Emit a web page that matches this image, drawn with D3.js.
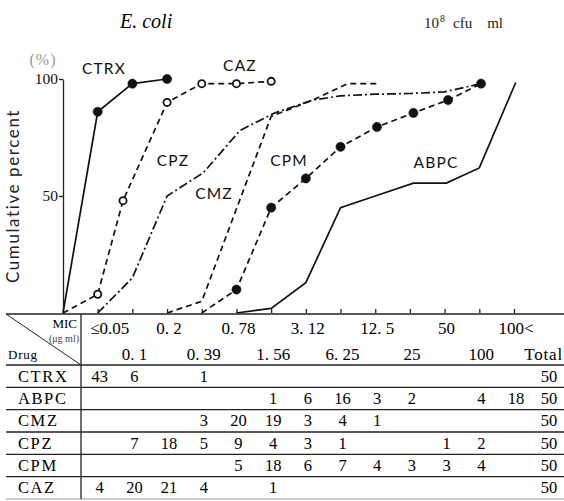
<!DOCTYPE html>
<html>
<head>
<meta charset="utf-8">
<script src="https://cdn.jsdelivr.net/npm/d3@7"></script>
<style>
  html, body { margin: 0; padding: 0; background: #fff; }
  svg { display: block; }
  .serif { font-family: "Liberation Serif", "DejaVu Serif", serif; }
  .sans { font-family: Lato, "Open Sans", sans-serif; }
</style>
</head>
<body>
<div id="chart"></div>
<script>
// MIC classes (table columns), drugs (table rows)
const micTop = ["≤0.05", "0. 2", "0. 78", "3. 12", "12. 5", "50", "100<"];
const micBottom = ["0. 1", "0. 39", "1. 56", "6. 25", "25", "100"];
const drugs = ["CTRX", "ABPC", "CMZ", "CPZ", "CPM", "CAZ"];

// number of strains per MIC class (13 classes), null = blank
const countCTRX = [43, 6, null, 1, null, null, null, null, null, null, null, null, null];
const countABPC = [null, null, null, null, null, 1, 6, 16, 3, 2, null, 4, 18];
const countCMZ  = [null, null, null, 3, 20, 19, 3, 4, 1, null, null, null, null];
const countCPZ  = [null, 7, 18, 5, 9, 4, 3, 1, null, null, 1, 2, null];
const countCPM  = [null, null, null, null, 5, 18, 6, 7, 4, 3, 3, 4, null];
const countCAZ  = [4, 20, 21, 4, null, 1, null, null, null, null, null, null, null];
const totals = [50, 50, 50, 50, 50, 50];

// cumulative curves: [class position, percent]
const curveCTRX = [[0, 0], [1, 86], [2, 98], [3, 100]];
const curveCAZ  = [[0, 0], [1, 8], [1.73, 48], [3, 90], [4, 98], [5, 98], [6, 99]];
const curveCPZ  = [[1, 0], [2, 15], [3, 50], [4.05, 60], [5.1, 78], [6.1, 85.5], [7.2, 91], [8, 92.8], [9, 93.5], [10, 93.8], [11, 94.5], [12.05, 98]];
const curveCMZ  = [[3, 0], [4, 5], [6, 84], [7.2, 91], [8.2, 98], [9.1, 98]];
const curveCPM  = [[4, 0], [5, 10], [6, 45], [7, 57.5], [8, 71], [9.05, 79.5], [10.1, 85.5], [11.1, 91], [12.05, 98]];
const curveABPC = [[5, 0], [6, 2], [7, 13], [8, 45], [9, 50], [10.1, 55.5], [11.05, 55.5], [12, 62], [13.05, 98.5]];

const W = 564, H = 501;

const svg = d3.select("#chart").append("svg")
  .attr("width", W)
  .attr("height", H);

const x = d3.scaleLinear().domain([0, 13]).range([63, 514]);
const y = d3.scaleLinear().domain([0, 100]).range([313, 79]);

// titles
svg.append("text")
  .attr("class", "serif")
  .attr("x", 120).attr("y", 28)
  .attr("font-size", 20)
  .attr("font-style", "italic")
  .text("E. coli");

const sub = svg.append("text")
  .attr("class", "serif")
  .attr("x", 424).attr("y", 28)
  .attr("font-size", 15)
  .attr("fill", "#222");
sub.append("tspan").text("10");
sub.append("tspan").attr("font-size", 10).attr("dy", -6).attr("dx", 1).text("8");
sub.append("tspan").attr("dy", 6).attr("dx", 8).text("cfu");
sub.append("tspan").attr("dx", 15).text("ml");

// y axis
svg.append("g")
  .attr("class", "serif")
  .attr("transform", `translate(${x(0)},0)`)
  .call(d3.axisLeft(y).tickValues([50, 100]).tickSize(4).tickSizeOuter(0).tickPadding(1))
  .call(g => g.selectAll("text").attr("font-size", 15.5).attr("fill", "#111")
    .attr("font-family", "Liberation Serif"))
  .call(g => g.selectAll("line, path").attr("stroke", "#222").attr("stroke-width", 1.3));

svg.append("text")
  .attr("class", "serif")
  .attr("x", 43).attr("y", 65)
  .attr("text-anchor", "middle")
  .attr("font-size", 16)
  .attr("letter-spacing", 1)
  .attr("fill", "#999")
  .text("(%)");

svg.append("text")
  .attr("class", "sans")
  .attr("transform", `translate(19,196) rotate(-90)`)
  .attr("text-anchor", "middle")
  .attr("font-size", 17)
  .attr("letter-spacing", 1.6)
  .attr("fill", "#222")
  .text("Cumulative percent");

// x axis ticks (MIC classes)
svg.append("g")
  .attr("transform", `translate(0,${y(0)})`)
  .call(d3.axisTop(x).tickValues(d3.range(1, 14)).tickSize(4).tickFormat(""))
  .call(g => g.select(".domain").remove())
  .call(g => g.selectAll("line").attr("stroke", "#222").attr("stroke-width", 1.3));

// curves
const line = d3.line().x(d => x(d[0])).y(d => y(d[1]));

const series = [
  { pts: curveCTRX, dash: null, marker: "fill" },
  { pts: curveCAZ, dash: "6,4", marker: "open" },
  { pts: curveCPZ, dash: "9,3,2,3", marker: null },
  { pts: curveCMZ, dash: "6,4", marker: null },
  { pts: curveCPM, dash: "6,4", marker: "fill" },
  { pts: curveABPC, dash: null, marker: null }
];

series.forEach(s => {
  svg.append("path")
    .datum(s.pts)
    .attr("fill", "none")
    .attr("stroke", "#111")
    .attr("stroke-width", 1.7)
    .attr("stroke-dasharray", s.dash)
    .attr("d", line);
  if (s.marker) {
    svg.selectAll(null)
      .data(s.pts.filter(d => d[1] > 0))
      .enter().append("circle")
      .attr("cx", d => x(d[0]))
      .attr("cy", d => y(d[1]))
      .attr("r", s.marker === "fill" ? 4.6 : 3.6)
      .attr("fill", s.marker === "fill" ? "#111" : "#fff")
      .attr("stroke", "#111")
      .attr("stroke-width", s.marker === "fill" ? 0.5 : 1.8);
  }
});

// curve labels
const curveLabels = [
  { t: "CTRX", x: 104, y: 74 },
  { t: "CAZ", x: 240, y: 71 },
  { t: "CPZ", x: 173, y: 166 },
  { t: "CMZ", x: 214, y: 199 },
  { t: "CPM", x: 289, y: 166 },
  { t: "ABPC", x: 436, y: 168 }
];
svg.selectAll(".clab")
  .data(curveLabels)
  .enter().append("text")
  .attr("class", "sans clab")
  .attr("x", d => d.x).attr("y", d => d.y)
  .attr("text-anchor", "middle")
  .attr("font-size", 15.5)
  .attr("letter-spacing", 1.2)
  .attr("fill", "#111")
  .text(d => d.t);

// table
const tTop = 314, tHead = 365, rowH = (499 - 365) / 6, tLeft = 6, tSep = 81, totalX = 549;
const grid = svg.append("g").attr("stroke", "#222").attr("stroke-width", 1.3);

grid.append("line").attr("x1", tLeft).attr("x2", W).attr("y1", tTop).attr("y2", tTop);
grid.append("line").attr("x1", tLeft).attr("x2", W).attr("y1", tHead).attr("y2", tHead);
d3.range(1, 7).forEach(i => {
  grid.append("line")
    .attr("x1", tLeft).attr("x2", W)
    .attr("y1", tHead + i * rowH).attr("y2", tHead + i * rowH)
    .attr("stroke-width", i === 6 ? 1 : 1.3)
    .attr("stroke", i === 6 ? "#999" : "#222");
});
grid.append("line").attr("x1", tSep).attr("x2", tSep).attr("y1", tTop).attr("y2", tHead + 6 * rowH);
grid.append("line").attr("x1", tLeft).attr("x2", tSep).attr("y1", tTop).attr("y2", tHead).attr("stroke-width", 1);

// header cell
svg.append("text").attr("class", "serif")
  .attr("x", 77).attr("y", 328).attr("text-anchor", "end")
  .attr("font-size", 13).text("MIC");
svg.append("text").attr("class", "serif")
  .attr("x", 79).attr("y", 342).attr("text-anchor", "end")
  .attr("font-size", 10).attr("fill", "#444").text("(μg ml)");
svg.append("text").attr("class", "serif")
  .attr("x", 8).attr("y", 359)
  .attr("font-size", 13).attr("letter-spacing", 0.8).text("Drug");

// MIC header labels: odd classes on top line, even on second line
svg.selectAll(".mtop")
  .data(micTop)
  .enter().append("text")
  .attr("class", "serif mtop")
  .attr("x", (d, i) => x(1 + 2 * i) + (i === 0 ? 12 : 2))
  .attr("y", 334)
  .attr("text-anchor", "middle")
  .attr("font-size", 17)
  .text(d => d);

svg.selectAll(".mbot")
  .data(micBottom)
  .enter().append("text")
  .attr("class", "serif mbot")
  .attr("x", (d, i) => x(2 + 2 * i) + 2)
  .attr("y", 360)
  .attr("text-anchor", "middle")
  .attr("font-size", 17)
  .text(d => d);

svg.append("text").attr("class", "serif")
  .attr("x", 563).attr("y", 360).attr("text-anchor", "end")
  .attr("font-size", 17).attr("letter-spacing", 0.8).text("Total");

// table rows
const counts = [countCTRX, countABPC, countCMZ, countCPZ, countCPM, countCAZ];
drugs.forEach((name, r) => {
  const cy = tHead + r * rowH + rowH / 2 + 5.5;
  svg.append("text").attr("class", "serif")
    .attr("x", 18).attr("y", cy)
    .attr("font-size", 16.5).attr("letter-spacing", 1.6)
    .text(name);
  svg.selectAll(null)
    .data(counts[r].map((v, i) => ({ v, i })).filter(d => d.v !== null))
    .enter().append("text")
    .attr("class", "serif")
    .attr("x", d => x(d.i + 1) + 2)
    .attr("y", cy)
    .attr("text-anchor", "middle")
    .attr("font-size", 16.5)
    .text(d => d.v);
  svg.append("text").attr("class", "serif")
    .attr("x", totalX).attr("y", cy)
    .attr("text-anchor", "middle")
    .attr("font-size", 16.5)
    .text(totals[r]);
});
</script>
</body>
</html>
